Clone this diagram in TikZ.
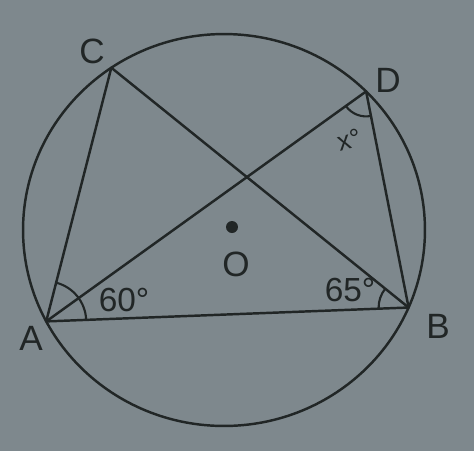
\documentclass[tikz,border=0pt]{standalone}
\usepackage{fontspec}
\setmainfont{Liberation Sans}
\usetikzlibrary{calc,angles}
\definecolor{bgc}{RGB}{126,136,141}
\definecolor{ink}{RGB}{33,38,38}
\tikzset{
  geo/.style={draw=ink, line width=1.4pt, line cap=round},
  ptlabel/.style={text=ink, font=\fontsize{20}{24}\selectfont, inner sep=0pt},
  anglabel/.style={text=ink, font=\fontsize{19}{22}\selectfont, inner sep=0pt},
  angmark/.style={draw=ink, line width=1.2pt}
}
\begin{document}
\begin{tikzpicture}[x=0.02cm,y=-0.02cm]
  \fill[bgc] (0,0) rectangle (474,451);
  \useasboundingbox (0,0) rectangle (474,451);
  \coordinate (O) at (224,230);
  \coordinate (A) at ($(O)+(152.2:201 and 196)$);
  \coordinate (B) at ($(O)+(23.3:201 and 196)$);
  \coordinate (C) at ($(O)+(235.9:201 and 196)$);
  \coordinate (D) at ($(O)+(315:201 and 196)$);
  \draw[geo] (O) ellipse [x radius=4.02cm, y radius=3.92cm];
  \draw[geo] (A) -- (C);
  \draw[geo] (A) -- (D);
  \draw[geo] (A) -- (B);
  \draw[geo] (C) -- (B);
  \draw[geo] (D) -- (B);
  \pic [angmark, angle radius=0.8cm] {angle=B--A--C};
  \pic [angmark, angle radius=0.6cm] {angle=C--B--A};
  \pic [angmark, angle radius=0.5cm] {angle=A--D--B};
  \fill[ink] (232,227) circle [radius=0.12cm];
  \node[ptlabel] (lA) at (31,338) {A};
  \node[ptlabel] (lB) at (438,326) {B};
  \node[ptlabel] (lC) at (92,51) {C};
  \node[ptlabel] (lD) at (388,80) {D};
  \node[ptlabel] (lO) at (236,264) {O};
  \node[anglabel] (a60) at (124,300) {60°};
  \node[anglabel] (a65) at (350,290) {65°};
  \node[anglabel, rotate=15, font=\fontsize{15}{17}\selectfont] (ax) at (349,140) {x°};
\end{tikzpicture}
\end{document}
